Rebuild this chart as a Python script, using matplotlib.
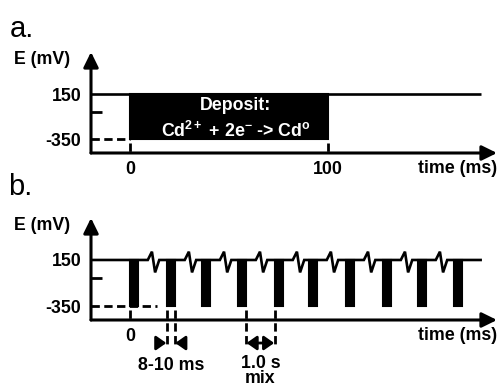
import matplotlib
matplotlib.use("Agg")
import matplotlib.pyplot as plt

# ---------------- data ----------------
E_high = 150          # mV, rest / stripping level
E_low = -350          # mV, deposition potential
E_tick_mid = -50      # unlabeled tick on E axis
y_tick_labels = ["150", "-350"]

deposit_start = 0     # ms
deposit_end = 100     # ms
x_tick_values_a = [0, 100]
x_tick_labels_a = ["0", "100"]

# panel b: pulse start times (schematic axis units) and pulse width
pulse_starts = [0, 18.7, 36.5, 54.7, 73.4, 90.6, 109.4, 128.1, 145.8, 164.1]
pulse_width = 3.9
x_tick_values_b = [0]
x_tick_labels_b = ["0"]

deposit_title = "Deposit:"
deposit_reaction = r"Cd$^{2+}$ + 2e$^{-}$ -> Cd$^{o}$"
pulse_label = "8-10 ms"
mix_label = "1.0 s\nmix"
xlabel = "time (ms)"
ylabel = "E (mV)"

# ---------------- style ----------------
plt.rcParams["font.family"] = ["Liberation Sans", "DejaVu Sans"]
plt.rcParams["mathtext.fontset"] = "custom"
plt.rcParams["mathtext.rm"] = "Liberation Sans:bold"
plt.rcParams["mathtext.it"] = "Liberation Sans:bold"
plt.rcParams["mathtext.bf"] = "Liberation Sans:bold"

FS = 12.8
W, H = 500, 387
fig = plt.figure(figsize=(W / 100, H / 100), dpi=100)

XL = (-19.75, 185.8)
line_end = 177.5


def make_axes(top_px, bottom_px, ylim):
    ax = fig.add_axes([91 / W, 1 - bottom_px / H, (497 - 91) / W, (bottom_px - top_px) / H])
    ax.set_xlim(*XL)
    ax.set_ylim(*ylim)
    for s in ax.spines.values():
        s.set_visible(False)
    ax.patch.set_alpha(0)
    # axis arrows
    arr = dict(arrowstyle="-|>,head_length=0.65,head_width=0.32", lw=2.2, color="black",
               mutation_scale=14, shrinkA=0, shrinkB=0)
    ax.annotate("", xy=(XL[1], ylim[0]), xytext=(XL[0], ylim[0]), arrowprops=arr,
                annotation_clip=False)
    ax.annotate("", xy=(XL[0], ylim[1]), xytext=(XL[0], ylim[0]), arrowprops=arr,
                annotation_clip=False)
    ax.set_yticks([E_high, E_low])
    ax.set_yticklabels(y_tick_labels, fontsize=FS, fontweight="bold")
    ax.tick_params(axis="y", length=0, pad=7)
    ax.set_yticks([E_tick_mid], minor=True)
    ax.tick_params(axis="y", which="minor", direction="in", length=8, width=2, left=True)
    ax.tick_params(axis="x", length=0, pad=6)
    ax.text(-44.6, ylim[1] - 85, ylabel, fontsize=FS, fontweight="bold",
            ha="center", va="center", clip_on=False)
    return ax


dash = dict(color="black", lw=2.0, linestyle=(0, (3.0, 1.6)), clip_on=False)

# ---------------- panel a ----------------
ylim_a = (-505, 617)
ax_a = make_axes(52, 153, ylim_a)
ax_a.set_xticks(x_tick_values_a)
ax_a.set_xticklabels(x_tick_labels_a, fontsize=FS, fontweight="bold")
ax_a.plot([XL[0], line_end], [E_high, E_high], color="black", lw=1.9, solid_capstyle="butt")
ax_a.bar(deposit_start, E_high - E_low, width=deposit_end - deposit_start, bottom=E_low,
         align="edge", color="black", edgecolor="black", lw=1.5)
ax_a.plot([XL[0], deposit_start], [E_low, E_low], **dash)
for t in (deposit_start, deposit_end):
    ax_a.plot([t, t], [E_low - 40, ylim_a[0]], **dash)
ax_a.text(53.5, 28, deposit_title, color="white", fontsize=FS, fontweight="bold",
          ha="center", va="center")
ax_a.text(53.5, -261, deposit_reaction, color="white", fontsize=FS, fontweight="bold",
          ha="center", va="center")
ax_a.text(XL[1], -672, xlabel, fontsize=FS, fontweight="bold", ha="right", va="center",
          clip_on=False)

# ---------------- panel b ----------------
ylim_b = (-502, 606)
ax_b = make_axes(218, 320, ylim_b)
ax_b.set_xticks(x_tick_values_b)
ax_b.set_xticklabels(x_tick_labels_b, fontsize=FS, fontweight="bold")

# baseline with break symbols between pulses
zig_dx = [9.0, 11.1, 12.7, 14.8]
zig_dy = [0, 90, -135, 0]
xs, ys = [XL[0]], [E_high]
for i, p in enumerate(pulse_starts[:-1]):
    for dx, dy in zip(zig_dx, zig_dy):
        xs.append(p + dx)
        ys.append(E_high + dy)
xs.append(line_end)
ys.append(E_high)
ax_b.plot(xs, ys, color="black", lw=1.9, solid_joinstyle="miter")

ax_b.bar(pulse_starts, [E_high - E_low] * len(pulse_starts), width=pulse_width,
         bottom=E_low, align="edge", color="black", edgecolor="black", lw=1.5)

ax_b.plot([XL[0], 13.7], [E_low, E_low], **dash)
ax_b.plot([pulse_starts[0], pulse_starts[0]], [E_low - 40, ylim_b[0]], **dash)

y_ann_bottom = -810
y_arrow = -752
edges = [pulse_starts[1], pulse_starts[1] + pulse_width,
         pulse_starts[3] + pulse_width, pulse_starts[4]]
for t in edges:
    ax_b.plot([t, t], [E_low - 40, y_ann_bottom], **dash)

small_arr = dict(arrowstyle="-|>,head_length=0.5,head_width=0.35", lw=2.0, color="black",
                 mutation_scale=12, shrinkA=0, shrinkB=0)
ax_b.annotate("", xy=(edges[0] - 0.3, y_arrow), xytext=(edges[0] - 5.0, y_arrow),
              arrowprops=small_arr, annotation_clip=False)
ax_b.annotate("", xy=(edges[1] + 0.3, y_arrow), xytext=(edges[1] + 5.0, y_arrow),
              arrowprops=small_arr, annotation_clip=False)
dbl_arr = dict(arrowstyle="<|-|>,head_length=0.5,head_width=0.35", lw=2.0, color="black",
               mutation_scale=12, shrinkA=0, shrinkB=0)
ax_b.annotate("", xy=(edges[3] - 0.4, y_arrow), xytext=(edges[2] + 0.4, y_arrow),
              arrowprops=dbl_arr, annotation_clip=False)

ax_b.text((edges[0] + edges[1]) / 2, -1000, pulse_label, fontsize=FS, fontweight="bold",
          ha="center", va="center", clip_on=False)
ax_b.text((edges[2] + edges[3]) / 2, -1055, mix_label, fontsize=FS, fontweight="bold",
          ha="center", va="center", linespacing=0.8, clip_on=False)
ax_b.text(XL[1], -665, xlabel, fontsize=FS, fontweight="bold", ha="right", va="center",
          clip_on=False)

# panel letters
fig.text(10 / W, 1 - 37 / H, "a.", fontsize=21, ha="left", va="baseline")
fig.text(8 / W, 1 - 195 / H, "b.", fontsize=21, ha="left", va="baseline")

fig.savefig("out.png", dpi=100)
